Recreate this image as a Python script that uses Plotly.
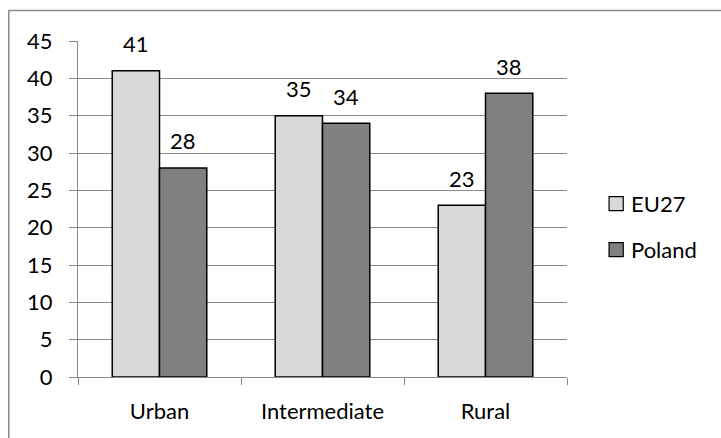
import plotly.graph_objects as go

# Share of population by area type (%)
categories = ["Urban", "Intermediate", "Rural"]
eu27 = [41, 35, 23]
poland = [28, 34, 38]
series_names = ["EU27", "Poland"]
y_ticks = [0, 5, 10, 15, 20, 25, 30, 35, 40, 45]

FONT = "Lato"
FSIZE = 22
GRID = "#8a8a8a"
colors = ["#d9d9d9", "#808080"]

fig = go.Figure()
for name, vals, col in zip(series_names, [eu27, poland], colors):
    fig.add_trace(go.Bar(
        x=categories, y=vals, name=name,
        marker=dict(color=col, line=dict(color="black", width=1.5)),
        showlegend=False,
    ))

# value labels above each bar
half = 23.3
for vals, dx in [(eu27, -half), (poland, half)]:
    for c, v in zip(categories, vals):
        fig.add_annotation(x=c, y=v, text=str(v), showarrow=False,
                           xshift=dx, yshift=27, yanchor="middle",
                           font=dict(family=FONT, size=FSIZE, color="black"))

# legend drawn as swatches + labels
for i, (name, col) in enumerate(zip(series_names, colors)):
    yc = 0.516 - i * 0.137
    fig.add_shape(type="rect", xref="paper", yref="paper",
                  x0=1.086, x1=1.115, y0=yc - 0.021, y1=yc + 0.021,
                  fillcolor=col, line=dict(color="black", width=1.2))
    fig.add_annotation(xref="paper", yref="paper", x=1.126, y=yc,
                       text=name, showarrow=False, xanchor="left",
                       yanchor="middle",
                       font=dict(family=FONT, size=FSIZE, color="black"))

# outer chart frame
fig.add_shape(type="rect", xref="paper", yref="paper",
              x0=-0.1415, x1=1.5, y0=-0.3, y1=1.0905,
              line=dict(color="#8c8c8c", width=1.5), layer="below")

fig.update_layout(
    width=721, height=438,
    margin=dict(l=78, r=154, t=41, b=61),
    paper_bgcolor="white", plot_bgcolor="white",
    barmode="group", bargap=0.42, bargroupgap=0,
    font=dict(family=FONT, size=FSIZE, color="black"),
)
fig.update_yaxes(range=[0, 45], tickvals=y_ticks, showgrid=True,
                 gridcolor=GRID, gridwidth=1, showline=True,
                 linecolor=GRID, linewidth=1, ticks="outside",
                 ticklen=8, tickcolor=GRID, ticklabelstandoff=12,
                 zeroline=False, tickfont=dict(family=FONT, size=FSIZE))
fig.update_xaxes(showline=True, linecolor=GRID, linewidth=1,
                 ticks="outside", ticklen=7, tickcolor=GRID,
                 tickson="boundaries", ticklabelstandoff=15,
                 tickfont=dict(family=FONT, size=FSIZE))

fig.write_html("out.html")
